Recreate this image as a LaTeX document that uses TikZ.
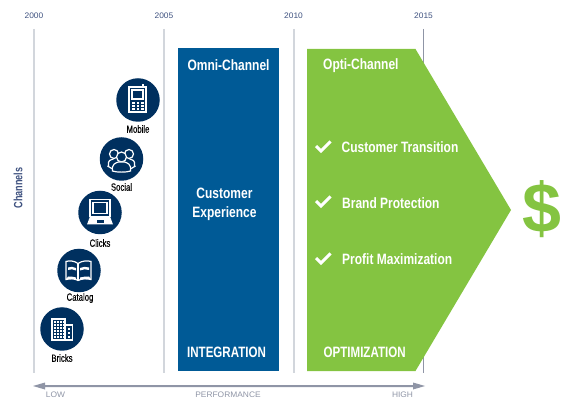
\documentclass[tikz,border=0pt]{standalone}
\usepackage{fontspec}
\setmainfont{Liberation Sans}
\newfontfamily\narrowb[FakeStretch=0.8]{Liberation Sans Bold}
\newfontfamily\narrowc[FakeStretch=0.77]{Liberation Sans Bold}
\newfontfamily\narrowm[FakeStretch=0.76]{Liberation Sans Bold}
\newfontfamily\narrowr[FakeStretch=0.74,FakeBold=0.2]{Liberation Sans}
\newfontfamily\widefont[FakeStretch=1.05]{Liberation Sans}
\newfontfamily\bigfont{Liberation Sans Bold}
\definecolor{navy}{HTML}{00305F}
\definecolor{omni}{HTML}{005A96}
\definecolor{opti}{HTML}{84C441}
\definecolor{gridc}{HTML}{D2D6DC}
\definecolor{yearc}{HTML}{3F5280}
\definecolor{axisc}{HTML}{8F95A6}
\tikzset{
  x=1pt,y=-1pt,
  gridline/.style={draw=gridc,line width=1.2pt},
  year/.style={font=\widefont\fontsize{8}{9}\selectfont,text=yearc,inner sep=0pt},
  badge/.style={circle,fill=navy,minimum size=43.5pt,inner sep=0pt},
  chan/.style={font=\narrowr\fontsize{10.5}{11}\selectfont,text=black,inner sep=0pt},
  head/.style={font=\narrowb\fontsize{15}{16}\selectfont,text=white,inner sep=0pt},
  capshead/.style={font=\narrowc\fontsize{15}{16}\selectfont,text=white,inner sep=0pt},
  axl/.style={font=\widefont\fontsize{8}{9}\selectfont,text=axisc,inner sep=0pt},
  tick/.style={draw=white,line width=3pt},
  ico/.style={draw=white,line width=1.2pt},
}
\begin{document}
\begin{tikzpicture}
\useasboundingbox (0,0) rectangle (570,411);
\node[year] (y0) at (34,16) {2000};
\node[year] (y1) at (164,16) {2005};
\node[year] (y2) at (293.5,16) {2010};
\node[year] (y3) at (423.5,16) {2015};
\coordinate (g0t) at (34,29); \coordinate (g0b) at (34,373);
\coordinate (g1t) at (164,29); \coordinate (g1b) at (164,373);
\coordinate (g2t) at (294,29); \coordinate (g2b) at (294,373);
\coordinate (g3t) at (423.5,29); \coordinate (g3b) at (423.5,373);
\draw[gridline] (g0t) -- (g0b);
\draw[gridline] (g1t) -- (g1b);
\draw[gridline] (g2t) -- (g2b);
\draw[draw=axisc,line width=0.7pt] (g3t) -- (g3b);
% axis
\coordinate (al) at (33,386); \coordinate (ar) at (425,386);
\fill[axisc] (al) -- (45,382.5) -- (45,385) -- (413,385) -- (413,382.5) -- (ar) -- (413,389.5) -- (413,387) -- (45,387) -- (45,389.5) -- cycle;
\node[axl] (low) at (55.5,394.5) {LOW};
\node[axl] (perf) at (228,395) {PERFORMANCE};
\node[axl] (high) at (402.5,395) {HIGH};
\node[rotate=90,font=\narrowm\fontsize{12}{13}\selectfont,text=yearc,inner sep=0pt] (ch) at (18,188) {Channels};
% blocks
\fill[omni] (178,48) rectangle (279,371);
\fill[opti] (307,49) -- (415.5,49) -- (511,210) -- (415.5,371) -- (307,371) -- cycle;
\node[head] (omnit) at (228.5,65.5) {Omni-Channel};
\node[head,align=center,font=\narrowb\fontsize{15}{19}\selectfont] (cx) at (224.5,204.5) {Customer\\Experience};
\node[capshead] (integ) at (226.5,352.5) {INTEGRATION};
\node[head,anchor=west] (optit) at (323,65.5) {Opti-Channel};
\node[head,anchor=west] (ct) at (341.5,147) {Customer Transition};
\node[head,anchor=west] (bp) at (342,203) {Brand Protection};
\node[head,anchor=west] (pm) at (342,259) {Profit Maximization};
\node[capshead,anchor=west] (op) at (323.5,352.5) {OPTIMIZATION};
\draw[tick] (316,146) -- (321,151) -- (330.5,141.5);
\draw[tick] (316,201) -- (321,206) -- (330.5,196.5);
\draw[tick] (316,258) -- (321,263) -- (330.5,253.5);
\node[font=\bigfont\fontsize{70}{72}\selectfont,text=opti,inner sep=0pt] (dollar) at (541.5,209) {\$};
% badges
\node[badge] (mob) at (138,100) {};
\node[badge] (soc) at (121.5,159) {};
\node[badge] (cli) at (100,212.5) {};
\node[badge] (cat) at (79,270.5) {};
\node[badge] (bri) at (62,329) {};
\node[chan] (lmob) at (138,129) {Mobile};
\node[chan] (lsoc) at (121.5,187) {Social};
\node[chan] (lcli) at (100,243) {Clicks};
\node[chan] (lcat) at (80,298) {Catalog};
\node[chan] (lbri) at (62,358) {Bricks};
% mobile icon
\begin{scope}[shift={(138,100)}]
  \draw[ico] (-9,-13) rectangle (8,12);
  \draw[ico] (5,-13) -- (5,-15.5);
  \draw[ico] (-6,-10) rectangle (5,-1);
  \foreach \yy in {2,5,8} \foreach \xx in {-6,-1.5,3}
    \fill[white] (\xx,\yy) rectangle +(2.6,2);
\end{scope}
% social icon
\begin{scope}[shift={(121.5,159)}]
  \draw[ico] (-7.5,-5) circle (4.5);
  \draw[ico] (7.5,-5) circle (4.5);
  \draw[ico] (-13,7) .. controls (-14,1) and (-11,1) .. (-8,0);
  \draw[ico] (13,7) .. controls (14,1) and (11,1) .. (8,0);
  \draw[ico] (-14,7) -- (-9,10);
  \draw[ico] (14,7) -- (9,10);
  \draw[ico,fill=navy] (0,-2) circle (5);
  \draw[ico,fill=navy] (-9,12) .. controls (-10,5) and (-6,4) .. (-3,3) -- (3,3) .. controls (6,4) and (10,5) .. (9,12) .. controls (5,13.5) and (-5,13.5) .. (-9,12) -- cycle;
\end{scope}
% clicks icon
\begin{scope}[shift={(100,212.5)}]
  \draw[ico] (-10,-13) rectangle (10,4);
  \draw[ico] (-7,-10) rectangle (7,1);
  \fill[white] (-10,4) -- (10,4) -- (13,12) -- (-13,12) -- cycle;
  \fill[navy] (-3.5,8) rectangle (3.5,10.5);
\end{scope}
% catalog icon
\begin{scope}[shift={(79,270.5)}]
  \draw[ico] (-1,-7) .. controls (-5,-10) and (-10,-10) .. (-13,-9) -- (-13,9) .. controls (-9,8) and (-4,8) .. (-1,10) .. controls (3,8) and (8,8) .. (12,9) -- (12,-9) .. controls (9,-10) and (3,-10) .. (-1,-7) -- cycle;
  \draw[ico,line width=1.6pt] (-1,-7) -- (-1,10);
  \fill[white] (-11,-3) .. controls (-8,-4) and (-6,-4) .. (-3,-2.5) -- (-3,0) .. controls (-6,-1.5) and (-8,-1.5) .. (-11,-0.5) -- cycle;
  \fill[white] (1,-2.5) .. controls (4,-4) and (7,-4) .. (10,-3) -- (10,-0.5) .. controls (7,-1.5) and (4,-1.5) .. (1,0) -- cycle;
  \fill[white] (-11,6) .. controls (-9,6) and (-6,6) .. (-3,7) -- (-3,9) .. controls (-6,8) and (-9,8) .. (-13,9) -- cycle;
  \fill[white] (1,7) .. controls (4,6) and (8,6) .. (10,6) -- (12,9) .. controls (8,8) and (4,8) .. (1,9) -- cycle;
\end{scope}
% bricks icon
\begin{scope}[shift={(62,329)}]
  \draw[ico] (-10,-10) rectangle (3,11);
  \draw[ico] (3,-4) rectangle (10.5,11);
  \foreach \yy in {-8,-5,-2,1,4,7} \foreach \xx in {-8,-5,-2,1}
    \fill[white] (\xx,\yy) rectangle +(1.8,1.8);
  \foreach \yy in {-1,3,7}
    \fill[white] (6,\yy) rectangle +(2,2);
\end{scope}
\end{tikzpicture}
\end{document}
